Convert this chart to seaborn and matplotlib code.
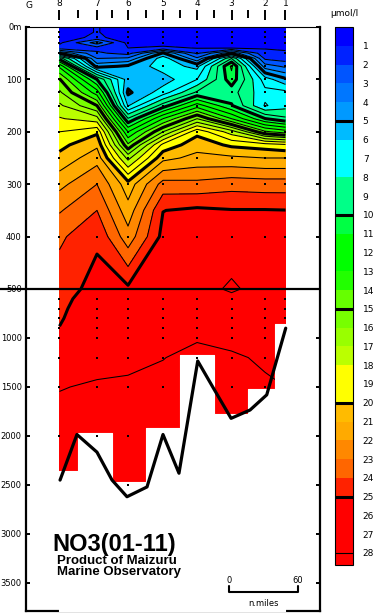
import numpy as np
import matplotlib
matplotlib.use("Agg")
import matplotlib.pyplot as plt
import seaborn as sns
from matplotlib.colors import ListedColormap
import matplotlib.transforms as mtransforms

# ---------------- data ----------------
station_labels = ['8', '7', '6', '5', '4', '3', '2', '1']
station_nm = [26.5, 59.1, 86.1, 116.5, 146.1, 176.1, 205.2, 223.0]   # distance from G (n.miles)
minor_nm = [42.8, 72.6, 101.3, 131.3, 161.1, 190.6]

depth_grid = [0, 10, 20, 30, 40, 50, 60, 75, 100, 125, 150, 175, 200, 225, 250,
              300, 350, 400, 500, 600, 700, 800, 900, 1000, 1200, 1500, 2000, 2500]

no3_st8 = [0.5, 0.5, 0.6, 0.8, 1.4, 5.0, 9.6, 12.8, 15.1, 16.2, 17.2, 18.1, 19.0, 19.7, 20.3,
           21.7, 22.9, 23.8, 24.6, 24.75, 24.85, 24.92, 25.02, 25.3, 25.6, 25.98, 26.2, 26.3]
no3_st7 = [1.05, 1.05, 1.2, 3.5, 1.6, 2.2, 3.0, 4.6, 10.0, 12.5, 15.0, 17.4, 19.8, 20.8, 21.6,
           23.0, 24.0, 24.85, 25.3, 25.45, 25.52, 25.6, 25.65, 25.7, 25.85, 26.05, 26.2, 26.3]
no3_st6 = [0.5, 0.5, 0.5, 0.7, 1.0, 1.6, 3.2, 5.2, 5.5, 4.8, 5.9, 9.1, 12.0, 14.2, 16.7,
           20.4, 21.4, 22.4, 25.2, 25.35, 25.42, 25.5, 25.58, 25.65, 25.85, 26.1, 26.2, 26.3]
no3_st5 = [0.5, 0.5, 0.5, 0.6, 1.2, 5.1, 6.6, 6.5, 5.5, 6.5, 9.5, 13.0, 16.0, 19.3, 20.7,
           23.4, 24.98, 25.3, 25.5, 25.6, 25.68, 25.75, 25.8, 25.85, 25.99, 26.1, 26.2, 26.3]
no3_st4 = [0.5, 0.5, 0.5, 0.6, 0.95, 1.8, 3.2, 5.7, 7.0, 9.2, 12.5, 16.0, 19.7, 20.6, 21.3,
           23.3, 25.2, 25.4, 25.6, 25.7, 25.78, 25.84, 25.9, 25.97, 26.1, 26.15, 26.2, 26.3]
no3_st3 = [0.5, 0.5, 0.5, 0.6, 0.9, 4.8, 9.0, 11.2, 10.6, 9.4, 10.1, 13.0, 17.5, 19.8, 21.2,
           23.6, 25.05, 25.4, 26.15, 25.75, 25.78, 25.8, 25.85, 25.9, 26.05, 26.15, 26.2, 26.3]
no3_st2 = [0.6, 0.6, 0.6, 0.8, 0.95, 1.2, 1.8, 3.5, 6.5, 7.3, 6.9, 10.05, 14.2, 19.5, 21.0,
           23.5, 25.05, 25.3, 25.6, 25.7, 25.75, 25.8, 25.85, 25.88, 25.95, 26.05, 26.15, 26.25]
no3_st1 = [0.6, 0.6, 0.6, 0.7, 0.9, 1.1, 1.5, 2.8, 5.2, 7.3, 7.6, 9.2, 13.5, 19.2, 21.0,
           23.5, 25.02, 25.3, 25.55, 25.65, 25.7, 25.75, 25.8, 25.85, 25.92, 26.0, 26.1, 26.2]

last_sample = [2360, 1970, 2470, 1920, 1170, 1775, 1520, 860]
std_depths = [0, 10, 20, 30, 50, 75, 100, 125, 150, 200, 250, 300, 400, 500,
              600, 700, 800, 900, 1000, 1200, 1500, 2000, 2500]

bottom_nm = [27.0, 41.7, 59.1, 72.2, 85.2, 102.6, 116.5, 130.4, 146.7, 160.0, 175.7, 192.2, 206.7, 223.2]
bottom_depth = [2450, 1985, 2165, 2450, 2620, 2520, 1985, 2380, 1235, 1505, 1820, 1735, 1580, 900]

level_colors = ['#0000FF', '#0022FF', '#0055FF', '#0077FF', '#0099FF', '#00BBFF', '#00FFFF',
                '#00FFFF', '#00FF88', '#00FF88', '#00FF44', '#00FF00', '#00FF00', '#22FF00',
                '#66FF00', '#77FF00', '#99FF00', '#BBFF00', '#FFFF00', '#FFFF00', '#FFBB00',
                '#FFAA00', '#FF8800', '#FF6600', '#FF2200', '#FF0000', '#FF0000', '#FF0000']
over_color = '#FF0000'

ytick_vals = [0, 100, 200, 300, 400, 500, 1000, 1500, 2000, 2500, 3000, 3500]
ytick_labels = ['0m', '100', '200', '300', '400', '500', '1000', '1500', '2000', '2500', '3000', '3500']

scale_start_nm = 173.9
scale_len_nm = 60

# ---------------- figure ----------------
sns.set_style("white")
plt.rcParams['font.family'] = ['DejaVu Sans']
plt.rcParams['text.color'] = 'black'
plt.rcParams['xtick.color'] = 'black'
plt.rcParams['ytick.color'] = 'black'
plt.rcParams['xtick.labelcolor'] = 'black'
plt.rcParams['ytick.labelcolor'] = 'black'
plt.rcParams['axes.labelcolor'] = 'black'

W, H = 376, 616
fig = plt.figure(figsize=(W / 100, H / 100), dpi=100)
ax = fig.add_axes([26 / W, 5 / H, 294 / W, 584 / H])


def fwd(d):
    d = np.asarray(d, dtype=float)
    return np.where(d <= 500, d * 262.0 / 500, 262.0 + (d - 500) * 49.0 / 500)


def inv(p):
    p = np.asarray(p, dtype=float)
    return np.where(p <= 262, p * 500.0 / 262, 500 + (p - 262) * 500.0 / 49)


ax.set_yscale('function', functions=(fwd, inv))

X, Y = np.meshgrid(station_nm, depth_grid)
Z = np.column_stack([no3_st8, no3_st7, no3_st6, no3_st5, no3_st4, no3_st3, no3_st2, no3_st1])

cmap = ListedColormap(level_colors)
cmap.set_over(over_color)
levels = np.arange(0, 29)
cf = ax.contourf(X, Y, Z, levels=levels, cmap=cmap, extend='max', zorder=1)
thin = [v for v in range(1, 29) if v % 5 != 0]
thick = [5, 10, 15, 20, 25]
ax.contour(X, Y, Z, levels=thin, colors='k', linewidths=0.75, zorder=2)
ax.contour(X, Y, Z, levels=thick, colors='k', linewidths=2.2, zorder=2)

# mask below deepest sample
ax.fill_between(station_nm, last_sample, 4000, step='mid', facecolor='white',
                edgecolor='white', lw=0.8, zorder=3)

# sample points
px, py = [], []
for xs, ls in zip(station_nm, last_sample):
    for d in std_depths:
        if d <= ls + 30:
            px.append(xs)
            py.append(d)
sns.scatterplot(x=px, y=py, ax=ax, color='k', s=1.0, marker='s', linewidth=0, zorder=4)

# bottom topography
sns.lineplot(x=bottom_nm, y=bottom_depth, ax=ax, sort=False, color='k', lw=2.3, zorder=5)

# 500 m line
ax.axhline(500, xmin=-26 / 294, xmax=1, color='k', lw=1.6, clip_on=False, zorder=6)

ax.set_xlim(-2.6, 253.0)
ax.set_ylim(3786, 0)
ax.set_xlabel('')
ax.set_ylabel('')
ax.set_xticks([])
ax.set_yticks(ytick_vals)
ax.set_yticklabels(ytick_labels)
ax.tick_params(axis='y', direction='in', length=3.2, width=1.4, left=True, right=True,
               labelsize=6, pad=3, colors='k')
ax.minorticks_off()
ax.set_xticks([])
for s in ['left', 'right', 'bottom']:
    ax.spines[s].set_linewidth(1.6)
    ax.spines[s].set_color('k')
ax.spines['top'].set_linewidth(0.8)
ax.spines['top'].set_color('k')

# station axis on top
sec = ax.secondary_xaxis(1 + 17 / 584)
sec.set_xticks(station_nm)
sec.set_xticklabels(station_labels)
sec.set_xticks(minor_nm, minor=True)
sec.tick_params(axis='x', which='major', direction='in', length=7.2, width=1.4, labelsize=6.5,
                pad=1.5, colors='k')
sec.tick_params(axis='x', which='minor', direction='in', length=5.8, width=1.4, colors='k')
for s in sec.spines.values():
    s.set_visible(False)
trans = mtransforms.blended_transform_factory(ax.transData, fig.transFigure)
ax.text(0, 1 - 5.5 / H, 'G', transform=trans, ha='center', va='center', fontsize=6.5, color='k')

# scale bar
ax.plot([scale_start_nm, scale_start_nm, scale_start_nm + scale_len_nm, scale_start_nm + scale_len_nm],
        [3530, 3592, 3592, 3530], color='k', lw=1.5, zorder=6)
ax.text(scale_start_nm, 3520, '0', ha='center', va='bottom', fontsize=6, color='k')
ax.text(scale_start_nm + scale_len_nm, 3520, '60', ha='center', va='bottom', fontsize=6, color='k')
ax.text(scale_start_nm + scale_len_nm / 2, 3710, 'n.miles', ha='center', va='center', fontsize=6, color='k')

# titles
fig.text(52 / W, 1 - 551 / H, 'NO3(01-11)', fontsize=17, fontweight='bold', color='k',
         family=['Liberation Sans', 'DejaVu Sans'], ha='left', va='baseline')
fig.text(57 / W, 1 - 564 / H, 'Product of Maizuru', fontsize=9.5, fontweight='bold', color='k',
         family=['Liberation Sans', 'DejaVu Sans'], ha='left', va='baseline')
fig.text(57 / W, 1 - 575 / H, 'Marine Observatory', fontsize=9.5, fontweight='bold', color='k',
         family=['Liberation Sans', 'DejaVu Sans'], ha='left', va='baseline')

# colorbar
cax = fig.add_axes([335 / W, (H - 565) / H, 18 / W, 538 / H])
cb = fig.colorbar(cf, cax=cax, extend='max', extendfrac=12 / 526, extendrect=True,
                  drawedges=True, ticks=list(range(1, 29)))
cax.invert_yaxis()
cb.outline.set_linewidth(0.8)
cb.outline.set_color('k')
cb.dividers.set_color('k')
cb.dividers.set_linewidth(0.8)
for v in thick:
    cax.axhline(v, color='k', lw=2.2)
cax.tick_params(length=0, labelsize=6.5, pad=7, colors='k')
fig.text(344 / W, 1 - 14 / H, 'μmol/l', ha='center', va='center', fontsize=6.5, color='k')

fig.savefig('out.png', dpi=100)
